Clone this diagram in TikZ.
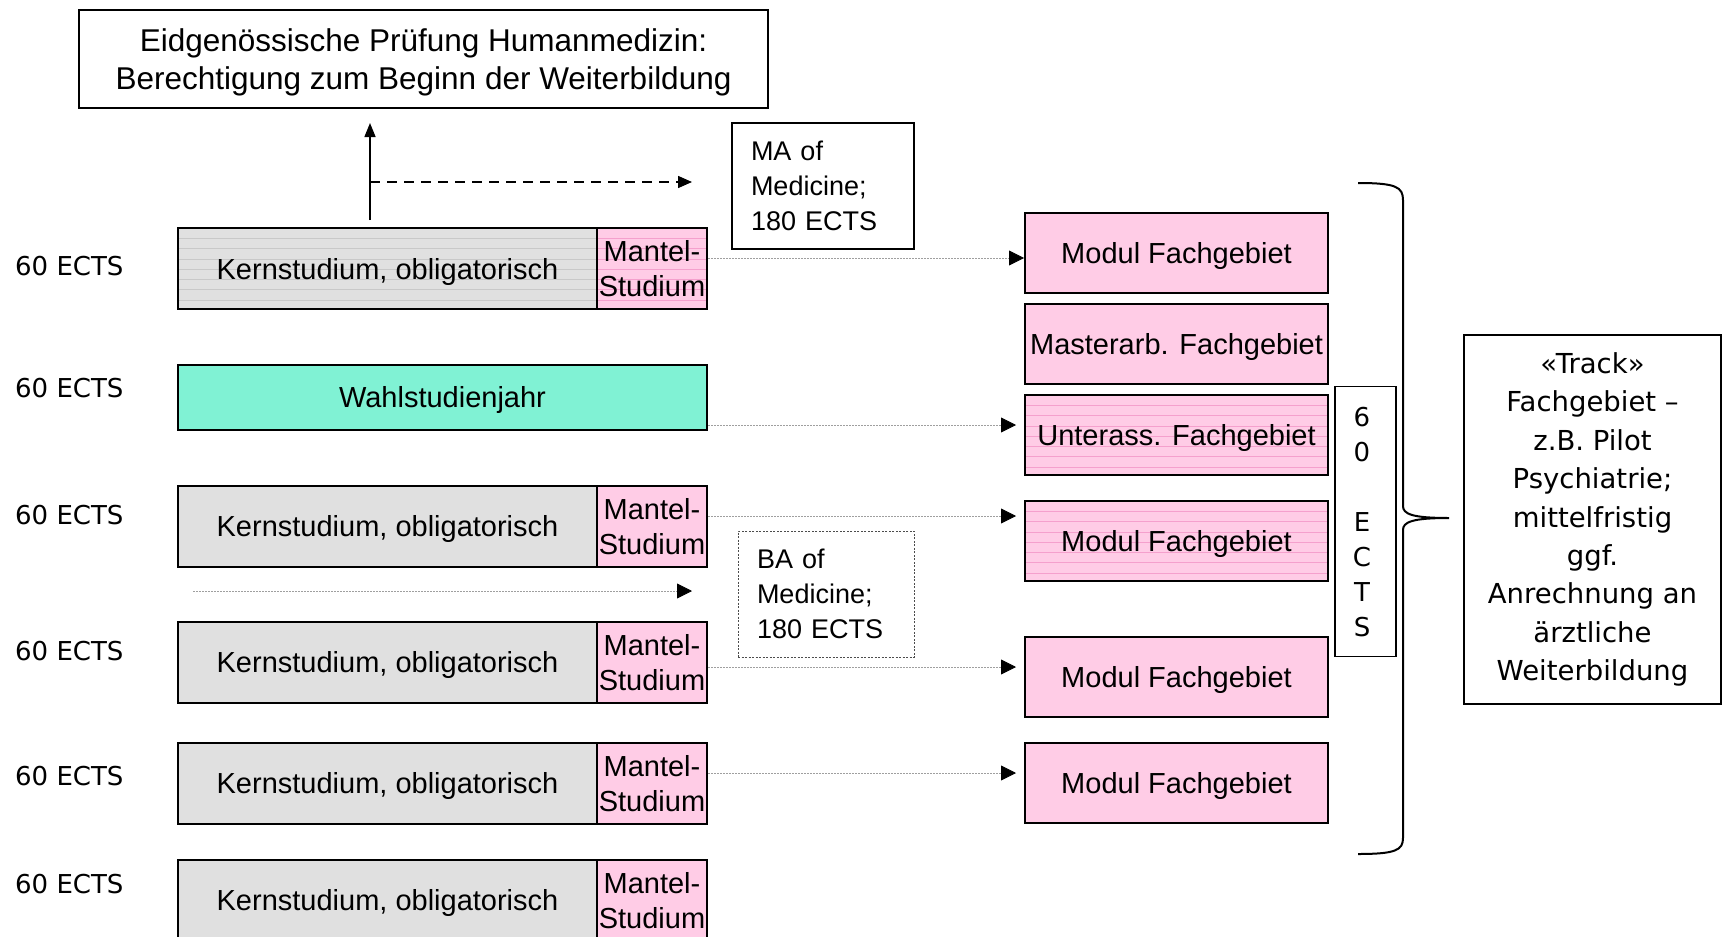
\documentclass[tikz,border=0pt]{standalone}
\usepackage{fontspec}
\newfontfamily\lsans{Liberation Sans}
\newfontfamily\dvsans{DejaVu Sans}
\usetikzlibrary{arrows.meta,calc}
\definecolor{kerngray}{RGB}{224,224,224}
\definecolor{mpink}{RGB}{255,204,230}
\definecolor{wgreen}{RGB}{128,242,212}
\definecolor{pinkline}{RGB}{245,160,205}
\definecolor{grayline}{RGB}{200,200,200}
\begin{document}
\begin{tikzpicture}[x=1pt,y=-1pt,
  box/.style={draw, line width=2pt, minimum height=81pt, inner sep=0pt, align=center,
    text depth=0pt, font=\lsans\fontsize{29}{35}\selectfont},
  kern/.style={box, fill=kerngray, minimum width=419pt},
  mantel/.style={box, fill=mpink, minimum width=110pt},
  modbox/.style={box, fill=mpink, minimum width=303pt, minimum height=80pt},
  lined/.style={path picture={\foreach \k in {1,...,7}{\draw[#1, line width=0.8pt]
      ([yshift=-\k*10.3pt]path picture bounding box.north west) --
      ([yshift=-\k*10.3pt]path picture bounding box.north east);}}},
  ectslbl/.style={font=\dvsans\fontsize{26}{30}\selectfont, anchor=west, inner sep=0pt},
  infobox/.style={line width=1.5pt, align=left, inner xsep=19pt, inner ysep=0pt,
    font=\lsans\fontsize{27}{35}\selectfont, minimum height=126pt},
  conn/.style={draw=gray!75, line width=0.8pt, dash pattern=on 1.5pt off 1.5pt,
    -{Triangle[length=15pt,width=15pt,black]}},
]
\useasboundingbox (0,0) rectangle (1722,937);
\clip (0,0) rectangle (1722,937);

% top box
\node[draw, line width=1.5pt, minimum width=689pt, minimum height=98pt, inner sep=0pt,
  align=center, text depth=0pt, font=\lsans\fontsize{31.5}{38}\selectfont] (top) at (423.5,59)
  {Eidgenössische Prüfung Humanmedizin:\\Berechtigung zum Beginn der Weiterbildung};

% MA / BA boxes
\node[infobox, draw, text width=144pt] (ma) at (823,186) {MA of\\Medicine;\\180 ECTS};
\node[infobox, draw=black!70, line width=0.8pt, dash pattern=on 2pt off 1.5pt, text width=138pt] (ba) at (826,594) {BA of\\Medicine;\\180 ECTS};

% left column
\node[kern, lined=grayline] (k1) at (387.5,268.5) {Kernstudium, obligatorisch};
\node[mantel, lined=pinkline] (m1) at (652,268.5) {Mantel-\\Studium};
\node[box, fill=wgreen, minimum width=529pt, minimum height=65pt] (w) at (442.5,397) {Wahlstudienjahr};
\node[kern] (k3) at (387.5,526) {Kernstudium, obligatorisch};
\node[mantel] (m3) at (652,526) {Mantel-\\Studium};
\node[kern] (k4) at (387.5,662) {Kernstudium, obligatorisch};
\node[mantel] (m4) at (652,662) {Mantel-\\Studium};
\node[kern] (k5) at (387.5,783) {Kernstudium, obligatorisch};
\node[mantel] (m5) at (652,783) {Mantel-\\Studium};
\node[kern] (k6) at (387.5,900) {Kernstudium, obligatorisch};
\node[mantel] (m6) at (652,900) {Mantel-\\Studium};

% ECTS labels
\node[ectslbl] (e1) at (15,266) {60 ECTS};
\node[ectslbl] (e2) at (15,388) {60 ECTS};
\node[ectslbl] (e3) at (15,515) {60 ECTS};
\node[ectslbl] (e4) at (15,651) {60 ECTS};
\node[ectslbl] (e5) at (15,776) {60 ECTS};
\node[ectslbl] (e6) at (15,884) {60 ECTS};

% right column
\node[modbox] (mod1) at (1176.5,253) {Modul Fachgebiet};
\node[modbox] (mas) at (1176.5,344) {Masterarb. Fachgebiet};
\node[modbox, lined=pinkline] (unt) at (1176.5,435) {Unterass. Fachgebiet};
\node[modbox, lined=pinkline] (mod2) at (1176.5,541) {Modul Fachgebiet};
\node[modbox] (mod3) at (1176.5,677) {Modul Fachgebiet};
\node[modbox] (mod4) at (1176.5,783) {Modul Fachgebiet};

% vertical 60 ECTS box
\node[draw, line width=1.5pt, minimum width=61pt, minimum height=270pt, inner sep=0pt] (v60) at (1365.5,521.5) {};
\node[inner sep=0pt, align=center, font=\dvsans\fontsize{26}{35}\selectfont] (v60t) at (1362,522)
  {6\\0\\[35pt]E\\C\\T\\S};

% brace
\draw[line width=2pt] (1358,183) .. controls (1396,183) and (1403,187) .. (1403,200)
  -- (1403,506) .. controls (1403,514) and (1412,518) .. (1449,518)
  .. controls (1412,518) and (1403,522) .. (1403,530)
  -- (1403,838) .. controls (1403,850) and (1396,854) .. (1358,854);

% track box
\node[draw, line width=1.5pt, minimum width=257pt, minimum height=369pt, inner sep=0pt,
  align=center, font=\dvsans\fontsize{27.5}{38.4}\selectfont] (track) at (1592.5,519.5)
  {«Track»\\Fachgebiet –\\z.B. Pilot\\Psychiatrie;\\mittelfristig\\ggf.\\Anrechnung an\\ärztliche\\Weiterbildung};

% arrows top
\coordinate (vstart) at (370,220);
\coordinate (vend) at (370,123);
\coordinate (dstart) at (370,182);
\coordinate (dend) at (692,182);
\draw[line width=1.5pt, -{Triangle[length=14pt,width=11pt]}] (vstart) -- (vend);
\draw[line width=1.5pt, dash pattern=on 10pt off 7pt, -{Triangle[length=14pt,width=12pt]}] (dstart) -- (dend);

% dotted connectors
\coordinate (c1) at ($(m1.east)+(0,-10.5)$);
\coordinate (c2) at ($(w.east)+(0,28)$);
\coordinate (c3) at ($(m3.east)+(0,-10)$);
\coordinate (c4) at ($(m4.east)+(0,5)$);
\coordinate (c5) at ($(m5.east)+(0,-10)$);
\draw[conn] (c1) -- (c1 -| mod1.west);
\draw[conn, shorten >=8pt] (c2) -- (c2 -| unt.west);
\draw[conn, shorten >=8pt] (c3) -- (c3 -| mod2.west);
\draw[conn, shorten >=8pt] (c4) -- (c4 -| mod3.west);
\draw[conn, shorten >=8pt] (c5) -- (c5 -| mod4.west);
\coordinate (bstart) at (193,591);
\coordinate (bend) at (692,591);
\draw[conn] (bstart) -- (bend);
\end{tikzpicture}
\end{document}
